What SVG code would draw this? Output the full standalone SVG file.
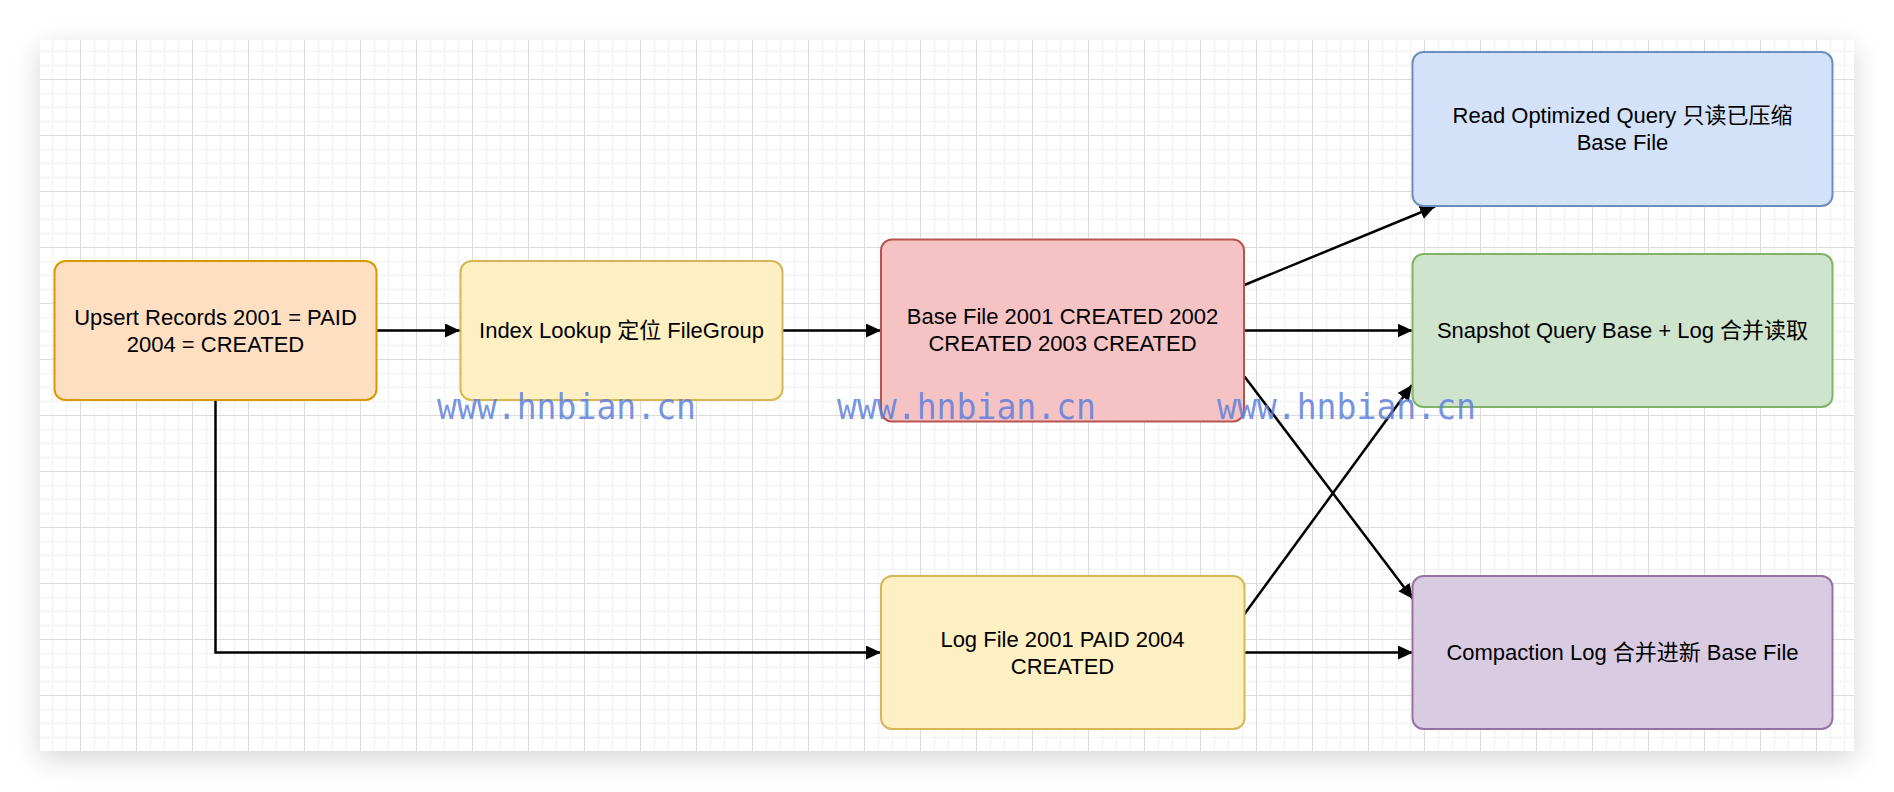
<svg xmlns="http://www.w3.org/2000/svg" width="1894" height="792" viewBox="0 0 1894 792">
<defs>
<pattern id="grid" x="80" y="79" width="56" height="56" patternUnits="userSpaceOnUse">
<path d="M14.5,0V56M28.5,0V56M42.5,0V56M0,14.5H56M0,28.5H56M0,42.5H56" stroke="#f4f4f4" stroke-width="1.5" fill="none"/>
<path d="M0.5,0V56M0,0.5H56" stroke="#dcdcdc" stroke-width="1" fill="none"/>
</pattern>
<filter id="shadow" x="-5%" y="-10%" width="110%" height="125%">
<feDropShadow dx="0" dy="8" stdDeviation="14" flood-color="#000" flood-opacity="0.16"/>
</filter>
<marker id="arrow" markerUnits="userSpaceOnUse" markerWidth="16" markerHeight="15" refX="15" refY="7" orient="auto">
<path d="M0,0 L15,7 L0,14 z" fill="#000"/>
</marker>
<style>
.box{stroke-width:2}
.lbl{font-family:"Liberation Sans","Noto Sans CJK SC",sans-serif;font-size:22px;fill:#000;text-anchor:middle}
.edge{stroke:#000;stroke-width:2.5;fill:none;marker-end:url(#arrow)}
.wm{font-family:"DejaVu Sans Mono",monospace;font-size:35px;fill:#5f7fdc;fill-opacity:0.85}
</style>
</defs>
<rect width="1894" height="792" fill="#fff"/>
<rect x="40" y="40" width="1814" height="711" fill="#fff" filter="url(#shadow)"/>
<rect x="40" y="40" width="1814" height="711" fill="url(#grid)"/>

<g id="connectors">
<path class="edge" d="M377,330.5 L460,330.5"/>
<path class="edge" d="M783,330.5 L881,330.5"/>
<path class="edge" d="M1244.5,330.5 L1412.5,330.5"/>
<path class="edge" d="M1244.5,285 L1435,206.5"/>
<path class="edge" d="M1244.5,376.5 L1413,599"/>
<path class="edge" d="M1244.5,614 L1412,385"/>
<path class="edge" d="M1244.5,652.5 L1413,652.5"/>
<path class="edge" d="M215.5,400 L215.5,652.5 L881,652.5"/>
</g>

<g id="upsert">
<rect class="box" x="54.5" y="261" width="322" height="139" rx="11" fill="#fedfc2" stroke="#d79b00"/>
<text class="lbl" x="215.5" y="325">Upsert Records 2001 = PAID</text>
<text class="lbl" x="215.5" y="352">2004 = CREATED</text>
</g>
<g id="index">
<rect class="box" x="460.5" y="261" width="322" height="139" rx="11" fill="#fff0c3" stroke="#d6b656"/>
<text class="lbl" x="621.5" y="338">Index Lookup 定位 FileGroup</text>
</g>
<g id="base">
<rect class="box" x="881" y="239.5" width="363" height="182" rx="11" fill="#f5c3c3" stroke="#b85450"/>
<text class="lbl" x="1062.5" y="324">Base File 2001 CREATED 2002</text>
<text class="lbl" x="1062.5" y="351">CREATED 2003 CREATED</text>
</g>
<g id="readopt">
<rect class="box" x="1412.5" y="52" width="420" height="154" rx="11" fill="#d3e2f9" stroke="#6c8ebf"/>
<text class="lbl" x="1622.5" y="123">Read Optimized Query 只读已压缩</text>
<text class="lbl" x="1622.5" y="150">Base File</text>
</g>
<g id="snapshot">
<rect class="box" x="1412.5" y="254" width="420" height="153" rx="11" fill="#cfe4cc" stroke="#82b366"/>
<text class="lbl" x="1622.5" y="338">Snapshot Query Base + Log 合并读取</text>
</g>
<g id="logfile">
<rect class="box" x="881" y="576" width="363.5" height="153" rx="11" fill="#fff0c3" stroke="#d6b656"/>
<text class="lbl" x="1062.5" y="647">Log File 2001 PAID 2004</text>
<text class="lbl" x="1062.5" y="674">CREATED</text>
</g>
<g id="compaction">
<rect class="box" x="1412.5" y="576" width="420" height="153" rx="11" fill="#d9cbe2" stroke="#9673a6"/>
<text class="lbl" x="1622.5" y="660">Compaction Log 合并进新 Base File</text>
</g>

<g id="watermarks">
<text class="wm" x="437" y="419" textLength="259" lengthAdjust="spacingAndGlyphs">www.hnbian.cn</text>
<text class="wm" x="837" y="419" textLength="259" lengthAdjust="spacingAndGlyphs">www.hnbian.cn</text>
<text class="wm" x="1217" y="419" textLength="259" lengthAdjust="spacingAndGlyphs">www.hnbian.cn</text>
</g>
</svg>
